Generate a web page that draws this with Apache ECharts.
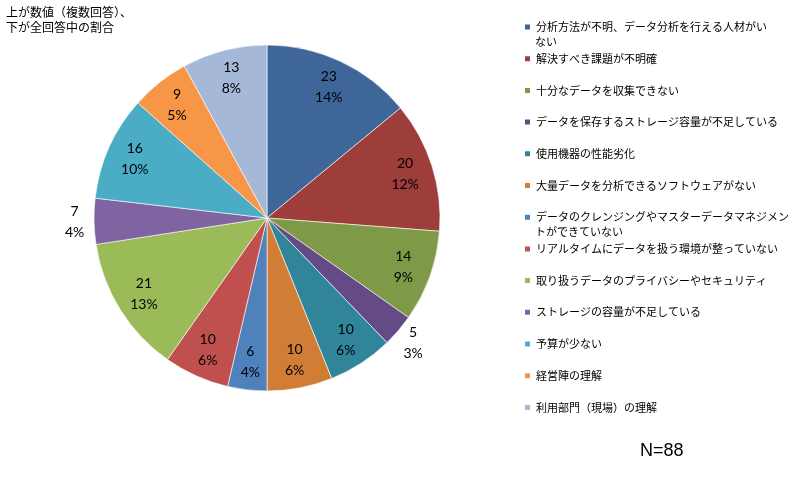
<!DOCTYPE html>
<html>
<head>
<meta charset="utf-8">
<script src="https://cdn.jsdelivr.net/npm/echarts@6/dist/echarts.min.js"></script>
<style>html,body{margin:0;padding:0;background:#fff}#c{width:800px;height:487px}</style>
</head>
<body>
<div id="c"></div>
<script>
const categories = [
  '分析方法が不明、データ分析を行える人材がいない',
  '解決すべき課題が不明確',
  '十分なデータを収集できない',
  'データを保存するストレージ容量が不足している',
  '使用機器の性能劣化',
  '大量データを分析できるソフトウェアがない',
  'データのクレンジングやマスターデータマネジメントができていない',
  'リアルタイムにデータを扱う環境が整っていない',
  '取り扱うデータのプライバシーやセキュリティ',
  'ストレージの容量が不足している',
  '予算が少ない',
  '経営陣の理解',
  '利用部門（現場）の理解'
];
const values = [23, 20, 14, 5, 10, 10, 6, 10, 21, 7, 16, 9, 13];
const noteText = '上が数値（複数回答）、\n下が全回答中の割合';
const sampleText = 'N=88';

const palette = ['#3E6698','#9D3E3B','#7E9A46','#644B85','#31859B','#D27D35','#4F81BD','#C0504D','#9BBB59','#8064A2','#4BACC6','#F79646','#A6B8D8'];
const outsideIdx = [3, 9];
const wrapAt = {0: 21, 6: 23};

const total = values.reduce((a, b) => a + b, 0);
const pct = values.map(v => Math.round(v / total * 100));

const R = 173, C = [267, 218];
const font = 'Lato, "Noto Sans CJK JP", sans-serif';
const jp = '"Noto Sans CJK JP", sans-serif';

// legend layout
const LEG_LEFT = 518, LEG_TOP = 14.5, LEG_PAD = 5, LINE_H = 15, LEG_GAP = 16.7;
const legendTextX = LEG_LEFT + LEG_PAD + 7 + 5;
const legendRowY = i => LEG_TOP + LEG_PAD + LINE_H / 2 + i * (LINE_H + LEG_GAP);

const continuation = Object.keys(wrapAt).map(k => {
  const i = +k;
  return {
    type: 'text', left: legendTextX, top: legendRowY(i) + LINE_H / 2,
    style: {text: categories[i].slice(wrapAt[i]), fill: '#000', font: '11px ' + jp, lineHeight: LINE_H, verticalAlign: 'top'},
    silent: true
  };
});

const mainData = categories.map((n, i) => ({name: n, value: values[i], itemStyle: {color: palette[i]}}));
const labelFmt = p => p.value + '\n' + pct[p.dataIndex] + '%';

const chart = echarts.init(document.getElementById('c'));
chart.setOption({
  animation: false,
  title: [
    {text: noteText, left: 1, top: 0, textStyle: {fontSize: 12, fontWeight: 'normal', color: '#000', lineHeight: 15, fontFamily: jp}},
    {text: sampleText, left: 635, top: 437, textStyle: {fontSize: 18, fontWeight: 'normal', color: '#000', fontFamily: '"Liberation Sans", sans-serif'}}
  ],
  legend: {
    orient: 'vertical', left: LEG_LEFT, top: LEG_TOP, padding: LEG_PAD,
    itemWidth: 7, itemHeight: 7, itemGap: LEG_GAP, icon: 'rect',
    data: categories,
    formatter: n => { const i = categories.indexOf(n); return wrapAt[i] ? n.slice(0, wrapAt[i]) : n; },
    textStyle: {fontSize: 11, color: '#000', lineHeight: LINE_H, fontFamily: jp},
    selectedMode: false
  },
  graphic: continuation,
  series: [
    {
      type: 'pie', center: C, radius: [0, R], startAngle: 90, clockwise: true,
      data: mainData, label: {show: false}, labelLine: {show: false},
      itemStyle: {borderColor: '#fff', borderWidth: 0.6}, emphasis: {disabled: true}, silent: true
    },
    {
      type: 'pie', center: C, radius: [R * 0.64, R], startAngle: 90, clockwise: true,
      data: categories.map((n, i) => ({name: n, value: values[i], label: {show: outsideIdx.indexOf(i) < 0}})),
      itemStyle: {color: 'rgba(0,0,0,0)'}, emphasis: {disabled: true}, silent: true,
      label: {position: 'inside', formatter: labelFmt, fontSize: 14, lineHeight: 21, color: '#000', fontFamily: font},
      labelLine: {show: false}
    },
    {
      type: 'pie', center: C, radius: [R, R * 1.19], startAngle: 90, clockwise: true,
      data: categories.map((n, i) => ({name: n, value: values[i], label: {show: outsideIdx.indexOf(i) >= 0}})),
      itemStyle: {color: 'rgba(0,0,0,0)'}, emphasis: {disabled: true}, silent: true,
      label: {position: 'inside', formatter: labelFmt, fontSize: 14, lineHeight: 21, color: '#000', fontFamily: font},
      labelLine: {show: false}
    }
  ]
});
</script>
</body>
</html>
